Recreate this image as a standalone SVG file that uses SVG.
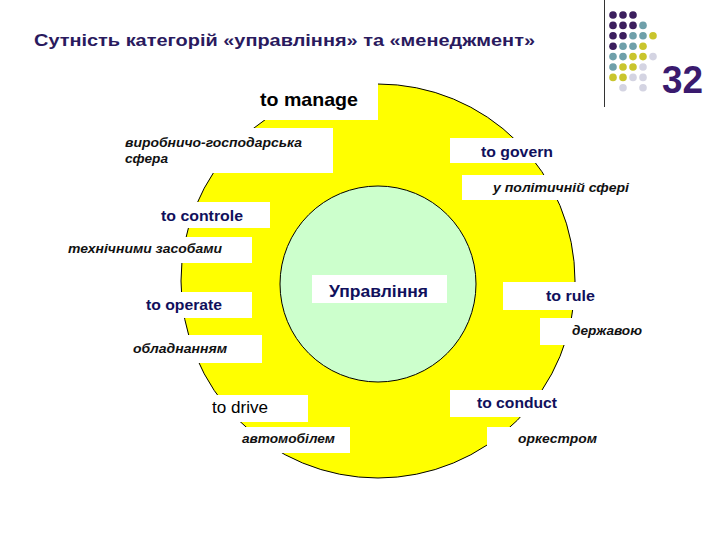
<svg xmlns="http://www.w3.org/2000/svg" width="720" height="540" viewBox="0 0 720 540">
<style>
.t{font-family:"Liberation Sans",Arial,sans-serif;}
.title{font-weight:bold;font-size:17px;fill:#2a1a5e;}
.nv{font-weight:bold;font-size:15.5px;fill:#10105c;}
.it{font-weight:bold;font-style:italic;font-size:13.5px;fill:#111;}
.bx{fill:#ffffff;}
.pu{fill:#3c1f5e;} .te{fill:#6fa0aa;} .ye{fill:#c9c52d;} .gr{fill:#d4d4e2;}
</style>
<rect width="720" height="540" fill="#ffffff"/>
<text class="t title" x="34" y="46" textLength="501" lengthAdjust="spacingAndGlyphs">Сутність категорій «управління» та «менеджмент»</text>
<line x1="604.5" y1="0" x2="604.5" y2="107" stroke="#333" stroke-width="1"/>
<g id="dots">
<circle class="pu" cx="613" cy="15" r="3.8"/><circle class="pu" cx="623" cy="15" r="3.8"/><circle class="pu" cx="633" cy="15" r="3.8"/>
<circle class="pu" cx="613" cy="25.4" r="3.8"/><circle class="pu" cx="623" cy="25.4" r="3.8"/><circle class="pu" cx="633" cy="25.4" r="3.8"/><circle class="te" cx="643" cy="25.4" r="3.8"/>
<circle class="pu" cx="613" cy="35.8" r="3.8"/><circle class="pu" cx="623" cy="35.8" r="3.8"/><circle class="te" cx="633" cy="35.8" r="3.8"/><circle class="te" cx="643" cy="35.8" r="3.8"/><circle class="ye" cx="653" cy="35.8" r="3.8"/>
<circle class="pu" cx="613" cy="46.2" r="3.8"/><circle class="te" cx="623" cy="46.2" r="3.8"/><circle class="te" cx="633" cy="46.2" r="3.8"/><circle class="ye" cx="643" cy="46.2" r="3.8"/>
<circle class="te" cx="613" cy="56.6" r="3.8"/><circle class="te" cx="623" cy="56.6" r="3.8"/><circle class="ye" cx="633" cy="56.6" r="3.8"/><circle class="ye" cx="643" cy="56.6" r="3.8"/><circle class="gr" cx="653" cy="56.6" r="3.8"/>
<circle class="te" cx="613" cy="67" r="3.8"/><circle class="ye" cx="623" cy="67" r="3.8"/><circle class="ye" cx="633" cy="67" r="3.8"/><circle class="gr" cx="643" cy="67" r="3.8"/>
<circle class="ye" cx="613" cy="77.4" r="3.8"/><circle class="ye" cx="623" cy="77.4" r="3.8"/><circle class="gr" cx="633" cy="77.4" r="3.8"/><circle class="gr" cx="643" cy="77.4" r="3.8"/>
<circle class="gr" cx="623" cy="87.8" r="3.8"/><circle class="gr" cx="643" cy="87.8" r="3.8"/>
</g>
<text class="t" x="662" y="93" font-size="39" font-weight="bold" fill="#3a1a6e" textLength="41" lengthAdjust="spacingAndGlyphs">32</text>

<g id="outer"><circle cx="378" cy="281" r="197" fill="#ffff00" stroke="#000" stroke-width="1"/></g>
<g id="inner"><circle cx="378" cy="284" r="98" fill="#ccffcc" stroke="#000" stroke-width="1"/></g>

<g id="manage"><rect class="bx" x="253" y="82" width="125" height="38"/>
<text class="t" x="260" y="106" font-size="19" font-weight="bold" fill="#000" textLength="98" lengthAdjust="spacingAndGlyphs">to manage</text></g>
<g id="vyrobnycho"><rect class="bx" x="115" y="128" width="218" height="45"/>
<text class="t it" x="125" y="147" textLength="177" lengthAdjust="spacingAndGlyphs">виробничо-господарська</text>
<text class="t it" x="125" y="163" textLength="43" lengthAdjust="spacingAndGlyphs">сфера</text></g>
<g id="govern"><rect class="bx" x="450" y="138" width="115" height="25"/>
<text class="t nv" x="481" y="157" textLength="72" lengthAdjust="spacingAndGlyphs">to govern</text></g>
<g id="polit"><rect class="bx" x="462" y="175" width="172" height="25"/>
<text class="t it" x="493" y="192" textLength="136" lengthAdjust="spacingAndGlyphs">у політичній сфері</text></g>
<g id="controle"><rect class="bx" x="150" y="202" width="120" height="26"/>
<text class="t nv" x="161" y="221" textLength="82" lengthAdjust="spacingAndGlyphs">to controle</text></g>
<g id="tekhn"><rect class="bx" x="60" y="237" width="192" height="26"/>
<text class="t it" x="68" y="253" textLength="154" lengthAdjust="spacingAndGlyphs">технічними засобами</text></g>
<g id="operate"><rect class="bx" x="135" y="292" width="117" height="26"/>
<text class="t nv" x="146" y="310" textLength="76" lengthAdjust="spacingAndGlyphs">to operate</text></g>
<g id="upravl"><rect class="bx" x="312" y="275" width="135" height="28"/>
<text class="t" x="329" y="297" font-size="17" font-weight="bold" fill="#10105c" textLength="99" lengthAdjust="spacingAndGlyphs">Управління</text></g>
<g id="rule"><rect class="bx" x="503" y="282" width="105" height="28"/>
<text class="t nv" x="546" y="301" textLength="49" lengthAdjust="spacingAndGlyphs">to rule</text></g>
<g id="derzh"><rect class="bx" x="540" y="318" width="108" height="27"/>
<text class="t it" x="572" y="335" textLength="70" lengthAdjust="spacingAndGlyphs">державою</text></g>
<g id="oblad"><rect class="bx" x="125" y="335" width="137" height="28"/>
<text class="t it" x="133" y="353" textLength="94" lengthAdjust="spacingAndGlyphs">обладнанням</text></g>
<g id="drive"><rect class="bx" x="208" y="395" width="100" height="27"/>
<text class="t" x="212" y="413" font-size="17" fill="#000" textLength="56" lengthAdjust="spacingAndGlyphs">to drive</text></g>
<g id="avto"><rect class="bx" x="238" y="427" width="112" height="26"/>
<text class="t it" x="242" y="443" textLength="93" lengthAdjust="spacingAndGlyphs">автомобілем</text></g>
<g id="conduct"><rect class="bx" x="450" y="390" width="118" height="27"/>
<text class="t nv" x="477" y="408" textLength="80" lengthAdjust="spacingAndGlyphs">to conduct</text></g>
<g id="orkestr"><rect class="bx" x="487" y="427" width="118" height="25"/>
<text class="t it" x="518" y="443" textLength="79" lengthAdjust="spacingAndGlyphs">оркестром</text></g>
<g id="connectors"></g>
</svg>
